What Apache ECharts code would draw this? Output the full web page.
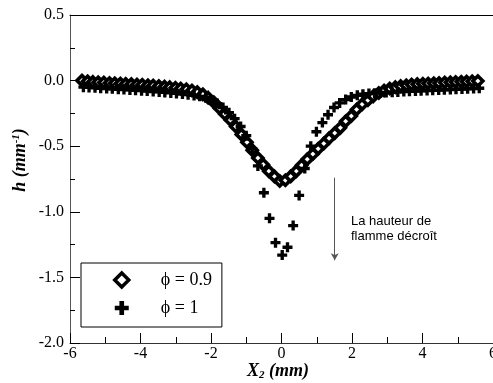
<!DOCTYPE html>
<html><head><meta charset="utf-8">
<script src="https://cdn.jsdelivr.net/npm/echarts/dist/echarts.min.js"></script>
<style>html,body{margin:0;padding:0;background:#fff}#c{width:493px;height:383px}</style>
</head><body><div id="c"></div>
<script>
// phi = 0.9 (diamonds)
const xPhi09 = [-5.66,-5.5,-5.35,-5.2,-5.04,-4.88,-4.73,-4.57,-4.42,-4.26,-4.1,-3.95,-3.79,-3.64,-3.48,-3.32,-3.17,-3.01,-2.86,-2.7,-2.54,-2.39,-2.23,-2.08,-1.92,-1.76,-1.61,-1.45,-1.3,-1.14,-0.98,-0.83,-0.67,-0.52,-0.36,-0.2,-0.05,0.11,0.26,0.42,0.57,0.73,0.89,1.04,1.2,1.35,1.51,1.67,1.82,1.98,2.13,2.29,2.45,2.6,2.76,2.91,3.07,3.23,3.38,3.54,3.69,3.85,4.01,4.16,4.32,4.47,4.63,4.79,4.94,5.1,5.25,5.41,5.57];
const hPhi09 = [0.0,-0.005,-0.01,-0.012,-0.015,-0.018,-0.02,-0.022,-0.025,-0.027,-0.03,-0.032,-0.035,-0.038,-0.042,-0.046,-0.05,-0.055,-0.06,-0.066,-0.075,-0.088,-0.105,-0.13,-0.165,-0.21,-0.255,-0.3,-0.35,-0.41,-0.47,-0.53,-0.59,-0.64,-0.69,-0.73,-0.765,-0.76,-0.73,-0.69,-0.645,-0.6,-0.56,-0.52,-0.48,-0.44,-0.4,-0.36,-0.31,-0.27,-0.22,-0.18,-0.15,-0.12,-0.095,-0.075,-0.06,-0.05,-0.042,-0.036,-0.03,-0.027,-0.024,-0.022,-0.02,-0.018,-0.015,-0.013,-0.011,-0.009,-0.007,-0.005,-0.003];
// phi = 1 (plus)
const xPhi1 = [-5.62,-5.46,-5.29,-5.13,-4.96,-4.8,-4.63,-4.47,-4.3,-4.14,-3.97,-3.81,-3.64,-3.47,-3.31,-3.14,-2.98,-2.81,-2.65,-2.48,-2.32,-2.15,-1.99,-1.82,-1.66,-1.49,-1.33,-1.16,-1.0,-0.83,-0.67,-0.5,-0.34,-0.17,0.02,0.17,0.33,0.5,0.66,0.83,0.99,1.16,1.32,1.49,1.65,1.82,1.98,2.15,2.31,2.48,2.64,2.81,2.97,3.14,3.3,3.47,3.63,3.8,3.96,4.13,4.29,4.46,4.62,4.79,4.95,5.12,5.28,5.45,5.61];
const hPhi1 = [-0.05,-0.052,-0.055,-0.058,-0.06,-0.063,-0.066,-0.068,-0.071,-0.074,-0.077,-0.08,-0.083,-0.086,-0.09,-0.094,-0.098,-0.102,-0.107,-0.113,-0.12,-0.13,-0.15,-0.175,-0.205,-0.245,-0.29,-0.35,-0.42,-0.52,-0.65,-0.855,-1.05,-1.235,-1.33,-1.27,-1.105,-0.875,-0.67,-0.5,-0.39,-0.32,-0.26,-0.205,-0.17,-0.145,-0.125,-0.112,-0.104,-0.099,-0.096,-0.093,-0.09,-0.088,-0.086,-0.084,-0.082,-0.08,-0.078,-0.076,-0.074,-0.072,-0.07,-0.068,-0.066,-0.064,-0.062,-0.06,-0.058];
const seriesNames = ['ϕ = 0.9', 'ϕ = 1'];
const xRange = [-6, 6];
const yRange = [-2.0, 0.5];
const annotationText = 'La hauteur de\nflamme décroît';
const arrowX = 1.51, arrowTop = -0.74, arrowBottom = -1.37;

const PLUS = 'path://M3,0H6V3H9V6H6V9H3V6H0V3H3Z';
const serif = '"Liberation Serif","Times New Roman",serif';

const chart = echarts.init(document.getElementById('c'), null, {renderer: 'canvas'});
chart.setOption({
  animation: false,
  backgroundColor: '#fff',
  grid: {left: 70, top: 15, width: 423, height: 328, outerBoundsMode: 'none', containLabel: false},
  xAxis: [{
    type: 'value', min: xRange[0], max: xRange[1], interval: 2,
    axisLine: {onZero: false, lineStyle: {color: '#333', width: 1}},
    axisTick: {inside: true, length: 10, lineStyle: {color: '#000'}},
    minorTick: {show: true, splitNumber: 2, length: 6, lineStyle: {color: '#000'}},
    splitLine: {show: false},
    axisLabel: {color: '#000', fontFamily: serif, fontSize: 16, margin: 3,
      formatter: v => String(v)}
  }, {
    type: 'value', position: 'top', min: xRange[0], max: xRange[1],
    axisLine: {show: true, onZero: false, lineStyle: {color: '#000'}},
    axisTick: {show: false}, axisLabel: {show: false}, splitLine: {show: false}
  }],
  yAxis: {
    type: 'value', min: yRange[0], max: yRange[1], interval: 0.5,
    axisLine: {show: true, onZero: false, lineStyle: {color: '#555', width: 1}},
    axisTick: {inside: true, length: 10, lineStyle: {color: '#000'}},
    minorTick: {show: true, splitNumber: 2, length: 5, lineStyle: {color: '#000'}},
    splitLine: {show: false},
    axisLabel: {color: '#000', fontFamily: serif, fontSize: 16, margin: 6,
      formatter: v => v.toFixed(1)}
  },
  legend: {
    orient: 'vertical', left: 81, top: 263,
    backgroundColor: '#fff', borderColor: '#000', borderWidth: 1,
    padding: [8, 10, 10, 32], itemGap: 10, itemWidth: 14, itemHeight: 14,
    data: [
      {name: seriesNames[0], itemStyle: {color: '#fff', borderColor: '#000', borderWidth: 3.5}},
      {name: seriesNames[1]}
    ],
    formatter: n => '{t|' + n + '}',
    textStyle: {rich: {t: {fontFamily: serif, fontSize: 18, color: '#000', padding: [0, 0, 0, 27], lineHeight: 16}}}
  },
  series: [{
    name: seriesNames[0], type: 'scatter', symbol: 'diamond', symbolSize: 10,
    itemStyle: {color: '#fff', borderColor: '#000', borderWidth: 3.6, opacity: 1},
    data: xPhi09.map((x, i) => [x, hPhi09[i]]),
    markLine: {
      silent: true, symbol: ['none', 'arrow'], symbolSize: [6, 7],
      lineStyle: {color: '#555', type: 'solid', width: 1},
      label: {show: false},
      data: [[{coord: [arrowX, arrowTop]}, {coord: [arrowX, arrowBottom]}]]
    }
  }, {
    name: seriesNames[1], type: 'scatter', symbol: PLUS, symbolSize: 10,
    itemStyle: {color: '#000', opacity: 1},
    data: xPhi1.map((x, i) => [x, hPhi1[i]])
  }],
  graphic: [{
    type: 'text', left: 351, top: 214,
    style: {text: annotationText, font: '13px "Liberation Sans", Arial, sans-serif', fill: '#000', lineHeight: 15}
  }, {
    type: 'text', x: 278, y: 371,
    style: {
      text: '{b|X}{s|2}{b| (mm)}', align: 'center', verticalAlign: 'middle',
      rich: {
        b: {fontFamily: serif, fontStyle: 'italic', fontWeight: 'bold', fontSize: 18, fill: '#000'},
        s: {fontFamily: serif, fontStyle: 'italic', fontWeight: 'bold', fontSize: 11, fill: '#000', padding: [8, 0, 0, 0]}
      }
    }
  }, {
    type: 'text', x: 20, y: 160, rotation: Math.PI / 2,
    style: {
      text: '{b|h (mm}{s|-1}{b|)}', align: 'center', verticalAlign: 'middle',
      rich: {
        b: {fontFamily: serif, fontStyle: 'italic', fontWeight: 'bold', fontSize: 18, fill: '#000'},
        s: {fontFamily: serif, fontStyle: 'italic', fontWeight: 'bold', fontSize: 11, fill: '#000', padding: [0, 0, 8, 0]}
      }
    }
  }]
});
</script></body></html>
